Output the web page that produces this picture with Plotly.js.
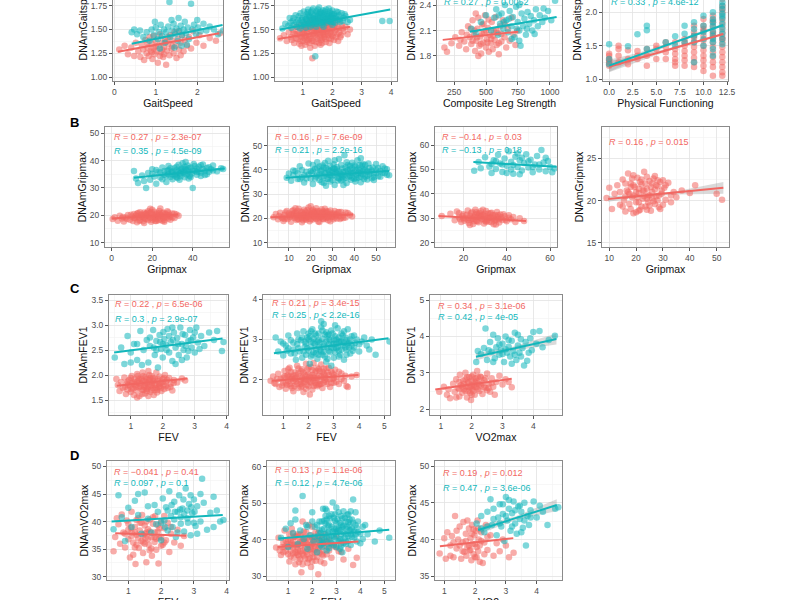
<!DOCTYPE html>
<html><head><meta charset="utf-8">
<script src="https://cdn.plot.ly/plotly-3.0.1.min.js"></script>
<style>
html,body{margin:0;padding:0;overflow:hidden;background:#fff;width:800px;height:600px}
#chart{position:absolute;left:0;top:-60px;width:800px;height:680px}
</style>
</head><body><div id="chart"></div>
<script>
// ---------- DATA ----------
// Panel A1: GaitSpeed vs DNAmGaitspeed
const a1Red = [[0.12,1.29],[0.25,1.33],[0.33,1.24],[0.41,1.31],[0.48,1.22],[0.52,1.36],[0.58,1.27],[0.63,1.21],[0.66,1.34],[0.70,1.29],[0.72,1.18],[0.75,1.39],[0.78,1.25],[0.80,1.31],[0.83,1.22],[0.85,1.42],[0.88,1.28],[0.90,1.35],[0.92,1.19],[0.95,1.30],[0.97,1.24],[1.00,1.38],[1.02,1.27],[1.05,1.15],[1.07,1.33],[1.10,1.45],[1.12,1.26],[1.15,1.36],[1.18,1.21],[1.20,1.31],[1.22,1.40],[1.25,1.13],[1.27,1.28],[1.30,1.35],[1.33,1.23],[1.35,1.44],[1.38,1.30],[1.40,1.38],[1.43,1.25],[1.45,1.47],[1.48,1.33],[1.50,1.20],[1.53,1.40],[1.56,1.29],[1.60,1.36],[1.63,1.44],[1.67,1.27],[1.70,1.39],[1.75,1.33],[1.80,1.42],[1.85,1.30],[1.90,1.48],[1.98,1.36],[2.05,1.44],[2.15,1.33],[2.30,1.41],[2.45,1.38],[2.55,1.46],[0.90,1.26],[1.10,1.22],[1.30,1.42],[1.00,1.32],[1.20,1.24],[1.40,1.32],[0.80,1.36],[1.60,1.23],[1.25,1.37],[0.95,1.43],[1.15,1.29],[1.55,1.48]];
const a1Cyan = [[0.42,1.47],[0.48,1.50],[0.55,1.45],[0.62,1.49],[0.70,1.42],[0.78,1.47],[0.85,1.38],[0.90,1.50],[0.95,1.44],[1.00,1.52],[1.05,1.40],[1.08,1.47],[1.12,1.55],[1.15,1.43],[1.20,1.50],[1.22,1.36],[1.25,1.47],[1.30,1.53],[1.33,1.79],[1.35,1.42],[1.40,1.49],[1.43,1.56],[1.47,1.45],[1.50,1.51],[1.53,1.38],[1.57,1.48],[1.60,1.54],[1.63,1.44],[1.67,1.50],[1.70,1.58],[1.73,1.46],[1.77,1.52],[1.80,1.40],[1.85,1.77],[1.88,1.50],[1.92,1.55],[1.97,1.45],[2.02,1.52],[2.08,1.48],[2.15,1.56],[2.22,1.49],[2.30,1.53],[2.40,1.50],[2.50,1.45],[2.62,1.49],[1.10,1.30],[1.45,1.31],[1.75,1.34],[1.62,1.33],[0.98,1.58],[1.38,1.60],[1.55,1.62],[2.00,1.60]];
const a1RedFit = [[0.09,1.266],[2.53,1.46]];
const a1CyanFit = [[0.42,1.35],[2.61,1.546]];

// Panel A2
const a2Red = [[0.22,1.41],[0.35,1.44],[0.45,1.38],[0.52,1.47],[0.6,1.42],[0.65,1.5],[0.7,1.36],[0.74,1.45],[0.78,1.53],[0.82,1.40],[0.85,1.48],[0.88,1.35],[0.9,1.44],[0.93,1.55],[0.96,1.42],[0.98,1.49],[1.0,1.38],[1.03,1.46],[1.05,1.53],[1.08,1.34],[1.1,1.43],[1.12,1.50],[1.15,1.39],[1.17,1.57],[1.2,1.45],[1.22,1.36],[1.25,1.52],[1.27,1.41],[1.3,1.48],[1.32,1.20],[1.33,1.55],[1.35,1.38],[1.38,1.46],[1.4,1.33],[1.42,1.51],[1.45,1.43],[1.47,1.58],[1.5,1.40],[1.52,1.49],[1.55,1.36],[1.57,1.54],[1.6,1.45],[1.62,1.39],[1.65,1.52],[1.67,1.47],[1.7,1.57],[1.72,1.42],[1.75,1.50],[1.78,1.37],[1.8,1.55],[1.83,1.46],[1.85,1.60],[1.88,1.41],[1.9,1.51],[1.93,1.47],[1.96,1.56],[2.0,1.43],[2.03,1.53],[2.06,1.39],[2.1,1.49],[2.14,1.58],[2.18,1.45],[2.22,1.52],[2.27,1.42],[2.32,1.55],[2.38,1.48],[2.45,1.53],[2.52,1.45],[2.6,1.50],[1.1,1.56],[1.3,1.60],[1.5,1.60],[0.95,1.33],[1.25,1.31],[1.6,1.34],[1.9,1.36],[1.15,1.47],[1.45,1.50],[1.75,1.44],[1.05,1.41],[1.35,1.52],[1.65,1.41],[2.0,1.61],[0.8,1.45],[1.2,1.54],[1.4,1.44],[1.8,1.48],[2.2,1.38],
  [0.62,1.39],[0.68,1.46],[0.76,1.41],[0.86,1.52],[0.92,1.38],[1.02,1.50],[1.07,1.44],[1.13,1.37],[1.18,1.51],[1.23,1.43],[1.28,1.56],[1.31,1.38],[1.37,1.49],[1.41,1.55],[1.44,1.37],[1.49,1.46],[1.54,1.52],[1.58,1.42],[1.63,1.49],[1.66,1.36],[1.69,1.45],[1.73,1.53],[1.77,1.40],[1.82,1.51],[1.86,1.44],[1.91,1.57],[1.95,1.40],[1.99,1.50],[2.04,1.46],[2.08,1.55],[2.12,1.42],[2.16,1.51],[2.24,1.47],[2.3,1.44],[2.36,1.51],[1.14,1.53],[1.34,1.45],[1.56,1.47],[1.76,1.58],[1.96,1.45],[0.99,1.45],[1.21,1.40],[1.48,1.53],[1.71,1.48],[1.87,1.53]];
const a2Cyan = [[0.3,1.51],[0.4,1.56],[0.5,1.54],[0.55,1.62],[0.6,1.52],[0.65,1.59],[0.7,1.55],[0.75,1.65],[0.8,1.53],[0.84,1.60],[0.88,1.57],[0.92,1.67],[0.95,1.54],[0.98,1.62],[1.0,1.58],[1.03,1.69],[1.06,1.55],[1.08,1.63],[1.1,1.52],[1.13,1.66],[1.15,1.59],[1.18,1.71],[1.2,1.56],[1.22,1.64],[1.25,1.60],[1.27,1.68],[1.3,1.55],[1.33,1.62],[1.35,1.72],[1.38,1.58],[1.4,1.65],[1.42,1.22],[1.43,1.61],[1.46,1.69],[1.48,1.56],[1.5,1.64],[1.53,1.59],[1.55,1.73],[1.58,1.62],[1.6,1.57],[1.63,1.67],[1.65,1.60],[1.68,1.70],[1.7,1.58],[1.73,1.65],[1.75,1.61],[1.78,1.71],[1.8,1.57],[1.83,1.66],[1.86,1.62],[1.88,1.72],[1.9,1.59],[1.93,1.67],[1.96,1.63],[2.0,1.70],[2.03,1.58],[2.06,1.66],[2.1,1.62],[2.14,1.69],[2.18,1.60],[2.22,1.65],[2.27,1.58],[2.32,1.67],[2.38,1.62],[2.45,1.64],[2.52,1.58],[2.6,1.60],[3.7,1.59],[3.95,1.59],[1.1,1.61],[1.45,1.53],[1.7,1.53],[0.9,1.51],[1.25,1.53],[2.0,1.55],[1.55,1.66],[1.35,1.60],[1.95,1.58],[1.65,1.55],
  [0.58,1.57],[0.68,1.62],[0.78,1.58],[0.86,1.64],[0.96,1.60],[1.04,1.56],[1.12,1.60],[1.19,1.65],[1.24,1.57],[1.29,1.63],[1.34,1.66],[1.39,1.61],[1.44,1.58],[1.49,1.67],[1.54,1.62],[1.59,1.68],[1.64,1.58],[1.69,1.63],[1.74,1.69],[1.79,1.61],[1.84,1.59],[1.89,1.65],[1.94,1.61],[1.99,1.66],[2.04,1.62],[2.09,1.57],[2.13,1.64],[2.2,1.68],[2.25,1.61],[2.35,1.59],[2.42,1.66],[1.31,1.70],[1.51,1.71],[1.71,1.67],[1.91,1.69],[1.16,1.68],[1.61,1.64],[2.01,1.64],[1.41,1.56],[1.81,1.64]];
const a2RedFit = [[0.16,1.40],[2.6,1.53]];
const a2CyanFit = [[0.22,1.50],[3.97,1.71]];

// Panel A3: Composite Leg Strength
const a3Red = [[175,1.90],[195,1.85],[230,1.95],[260,2.02],[290,1.92],[310,2.08],[330,1.97],[345,1.88],[360,2.15],[372,2.02],[385,1.94],[395,2.22],[405,2.05],[415,1.86],[425,1.98],[432,2.12],[440,2.25],[448,1.92],[455,2.03],[462,1.83],[470,2.17],[478,1.96],[485,2.08],[492,2.28],[500,1.90],[507,2.00],[515,2.13],[522,1.85],[530,2.05],[537,1.95],[545,2.20],[552,1.88],[560,2.10],[568,1.99],[575,2.26],[583,1.93],[590,2.07],[600,1.82],[610,2.15],[620,1.97],[632,2.22],[645,2.02],[658,1.90],[670,2.12],[685,1.98],[700,2.25],[715,2.05],[730,1.93],[745,2.10],[420,2.30],[480,2.18],[350,2.05],[440,1.80],[520,2.23],[600,1.95],[500,2.10],[380,2.12],[540,2.00],[460,1.94],[650,2.17],[580,2.10],[410,2.10],[300,1.99],[430,2.02],[470,2.06],[510,1.96],[555,2.04],[395,1.98],[620,2.06]];
const a3Cyan = [[385,2.12],[420,2.06],[460,2.20],[500,2.28],[540,2.10],[565,2.25],[580,2.35],[595,2.05],[610,2.18],[622,2.30],[635,2.12],[648,2.40],[660,2.22],[672,2.08],[685,2.33],[698,2.15],[710,2.26],[722,2.02],[735,2.38],[748,2.20],[760,2.10],[770,1.92],[778,2.30],[790,2.15],[800,2.24],[812,2.05],[825,2.32],[838,2.18],[850,2.27],[862,2.10],[875,2.22],[890,2.35],[905,2.15],[920,2.28],[940,2.20],[960,2.25],[985,2.33],[1010,2.22],[1040,2.45],[760,1.98],[700,2.00],[640,2.20],[820,2.12],[880,2.06],[740,2.12],[680,2.24],[600,2.28],[950,2.36],[760,2.40]];
const a3RedFit = [[162,1.99],[752,2.087]];
const a3CyanFit = [[375,2.087],[1052,2.26]];

// Panel A4: Physical Functioning (integer scores)
const a4Red = [[0,1.20],[0,1.25],[0,1.30],[0,1.35],[0,1.38],[0,1.23],[0,1.28],[1,1.50],[1,1.45],[1,1.35],[1,1.25],[2,1.43],[2,1.30],[2,1.22],[3,1.42],[3,1.30],[3,1.35],[4,1.20],[4,1.35],[4,1.45],[5,1.50],[5,1.45],[5,1.30],[6,1.55],[6,1.40],[6,1.30],[6,1.48],[7,1.55],[7,1.45],[7,1.30],[7,1.25],[7,1.20],[7,1.38],[8,1.60],[8,1.50],[8,1.42],[8,1.35],[8,1.28],[8,1.20],[8,1.55],[9,1.80],[9,1.70],[9,1.62],[9,1.55],[9,1.48],[9,1.40],[9,1.32],[9,1.25],[9,1.18],[9,1.65],[10,1.90],[10,1.80],[10,1.72],[10,1.65],[10,1.58],[10,1.50],[10,1.43],[10,1.35],[10,1.28],[10,1.20],[10,1.12],[10,1.75],[11,1.95],[11,1.85],[11,1.78],[11,1.70],[11,1.62],[11,1.55],[11,1.48],[11,1.40],[11,1.33],[11,1.25],[11,1.18],[11,1.05],[11,1.88],[11,1.68],[12,2.30],[12,2.20],[12,2.10],[12,2.00],[12,1.92],[12,1.85],[12,1.78],[12,1.70],[12,1.63],[12,1.55],[12,1.48],[12,1.40],[12,1.33],[12,1.25],[12,1.18],[12,1.10],[12,1.05],[12,2.05],[12,1.60]];
const a4Cyan = [[0,1.52],[0,1.22],[0,1.30],[2,1.49],[3,1.67],[4,1.80],[4,1.73],[4,1.45],[6,1.55],[7,1.64],[7,1.50],[8,1.80],[8,1.68],[8,1.55],[9,1.85],[9,1.75],[9,1.55],[9,1.25],[9,1.65],[10,1.95],[10,1.80],[10,1.70],[10,1.60],[10,1.50],[11,2.00],[11,1.90],[11,1.80],[11,1.72],[11,1.65],[11,1.55],[11,1.45],[11,1.35],[11,1.85],[11,1.60],[12,2.35],[12,2.25],[12,2.15],[12,2.05],[12,1.98],[12,1.90],[12,1.82],[12,1.75],[12,1.68],[12,1.60],[12,1.52],[12,2.10],[12,1.95]];
const a4RedFit = [[0,1.185],[12.1,1.675]];
const a4CyanFit = [[0,1.20],[12.1,1.81]];
const a4RedBand = [[0,1.10,1.27],[3,1.26,1.35],[6,1.41,1.45],[9,1.54,1.57],[12.1,1.66,1.69]];
const a4CyanBand = [[0,1.11,1.29],[3,1.30,1.39],[6,1.48,1.52],[9,1.64,1.68],[12.1,1.79,1.83]];

// Panel B1: Gripmax vs DNAmGripmax
const b1Red = [[0.5,18.6],[1.5,19.3],[3,18.0],[4,19.8],[5,18.8],[6,17.7],[7,19.2],[8,20.1],[9,18.4],[10,19.6],[10.5,17.9],[11,20.5],[11.5,18.9],[12,19.9],[12.5,17.5],[13,20.8],[13.5,19.1],[14,18.2],[14.5,20.3],[15,19.5],[15.5,17.8],[16,21.0],[16.5,18.7],[17,19.8],[17.5,20.9],[18,18.3],[18.5,19.6],[19,22.4],[19.5,17.6],[20,20.4],[20.5,18.9],[21,21.3],[21.5,19.4],[22,17.9],[22.5,20.8],[23,19.1],[23.5,21.6],[24,18.5],[24.5,20.1],[25,19.6],[25.5,21.0],[26,18.2],[26.5,20.6],[27,19.3],[27.5,21.5],[28,18.8],[28.5,20.2],[29,19.5],[30,20.7],[31,19.0],[32,20.3],[33,19.8],[20,22.0],[18,21.5],[16,17.2],[22,18.6],[24,22.5],[14,21.1],[26,17.6],[19,19.0],[21,20.0],[23,20.0],[17,20.5],[25,18.0],
  [5.5,19.4],[7.5,18.6],[9.5,20.2],[11,19.0],[12.5,20.6],[13.5,18.0],[15,20.0],[16,19.2],[17,18.6],[18,20.0],[19,20.8],[20,18.4],[21,19.2],[22,20.4],[23,18.2],[24,19.8],[25,20.8],[26,19.4],[27,20.2],[28,19.8],[29,18.4],[30,19.2],[31,20.6],[19.5,21.2],[21.5,17.9],[16.5,20.6],[25.5,19.0],[13,19.6],[23.5,20.6],[28,21.0]];
const b1Cyan = [[11,36.2],[12,33.5],[13,31.8],[15,34.6],[16,32.5],[17,30.0],[18,35.5],[19,33.0],[20,36.8],[21,34.2],[22,31.5],[23,35.8],[24,33.8],[25,37.5],[26,34.8],[27,32.2],[27.5,36.2],[28,38.0],[29,34.0],[29.5,35.9],[30,33.2],[31,37.2],[31.5,35.0],[32,36.5],[32.5,33.6],[33,38.5],[33.5,35.4],[34,34.3],[34.5,37.0],[35,39.0],[35.5,35.8],[36,33.9],[36.5,36.8],[37,34.9],[37.5,38.2],[38,36.0],[38.5,34.5],[39,37.5],[39.5,35.3],[40,30.0],[40.5,38.8],[41,36.3],[42,34.8],[43,37.8],[44,35.6],[45,36.9],[46,34.7],[47,37.3],[48,35.9],[49,36.8],[50,38.2],[52,36.1],[54,37.2],[55,36.9],[30,36.0],[34,36.5],[36,37.8],[28,35.0],[42,37.0],[32,34.0],[38,33.5],[44,38.3],
  [20,35.2],[22,36.6],[24,35.6],[25,33.2],[26,36.2],[27,34.4],[28,36.6],[29,37.2],[30,35.0],[31,34.6],[32,37.8],[33,36.0],[34,35.2],[35,37.0],[36,35.4],[37,36.4],[38,37.2],[39,34.0],[40,36.4],[41,38.0],[42,35.8],[43,36.0],[44,34.4],[45,38.6],[46,36.2],[47,35.0],[48,37.6],[50,36.4],[36.5,39.5],[33.5,33.0]];
const b1RedFit = [[0,18.8],[32.8,20.3]];
const b1CyanFit = [[11,33.7],[55.8,37.1]];

// Panel B2
const b2Red = [[3,20.5],[4,21.8],[5,19.6],[6,22.3],[7,20.1],[7.5,18.9],[8,21.5],[9,23.0],[9.5,19.8],[10,22.0],[10.5,20.6],[11,18.6],[11.5,21.9],[12,23.4],[12.5,20.2],[13,22.5],[13.5,19.3],[14,21.2],[14.5,24.0],[15,20.4],[15.5,22.8],[16,18.4],[16.5,21.6],[17,23.6],[17.5,19.9],[18,22.2],[18.5,20.8],[19,24.5],[19.5,18.8],[20,21.4],[20.5,23.2],[21,19.5],[21.5,22.6],[22,20.3],[22.5,24.2],[23,21.0],[23.5,18.7],[24,22.9],[24.5,20.6],[25,23.8],[25.5,19.7],[26,21.8],[26.5,24.0],[27,20.1],[27.5,22.4],[28,19.2],[28.5,21.5],[29,23.3],[29.5,20.5],[30,22.1],[30.5,19.6],[31,23.0],[31.5,21.2],[32,20.0],[32.5,22.5],[33,21.0],[33.5,19.8],[34,22.6],[35,21.3],[36,20.4],[37,22.2],[38,21.5],[39,20.8],[12,21.0],[15,21.5],[18,21.0],[20,22.0],[22,21.6],[24,20.8],[26,22.6],[28,21.0],[17,20.2],[19,20.0],[21,21.0],[23,22.2],[25,21.2],[14,19.8],[16,20.0],[27,23.0],[30,20.8],[10,21.2],[8,19.8],[20,25.0],[24,18.5],[13,24.2],[29,18.8],[18,19.4],[22,22.8],[26,20.5],[31,21.8],[34,20.3],
  [5.5,21.0],[6.5,20.5],[8.5,22.4],[9,20.4],[11,21.3],[11.5,23.0],[12.5,22.0],[13.5,21.6],[14,23.0],[14.5,19.6],[15.5,21.0],[16,22.4],[16.5,19.2],[17,21.8],[17.5,22.8],[18,20.6],[18.5,23.4],[19,21.5],[19.5,22.4],[20,19.6],[20.5,21.8],[21,23.6],[21.5,20.6],[22,21.8],[22.5,19.8],[23,23.0],[23.5,21.5],[24,20.2],[24.5,22.2],[25,20.8],[25.5,22.8],[26,19.6],[26.5,21.4],[27,22.0],[27.5,20.6],[28,22.8],[29,21.8],[30,21.4],[31,20.4],[32,21.6],[33,22.6],[35,20.2],[36,22.4],[19,20.8],[22,20.8],[25,22.0],[16,21.2],[13,20.6],[28,20.4],[21,22.4]];
const b2Cyan = [[9,36.8],[10,38.5],[11,35.5],[12,37.8],[13,39.6],[14,36.2],[15,41.5],[16,37.0],[17,34.8],[18,39.2],[19,42.6],[20,36.5],[20.5,38.8],[21,34.2],[22,40.5],[22.5,37.3],[23,43.2],[24,35.8],[24.5,39.5],[25,37.2],[25.5,41.8],[26,34.6],[26.5,38.6],[27,40.8],[27.5,36.4],[28,43.8],[28.5,38.0],[29,35.2],[29.5,40.0],[30,37.5],[30.5,42.3],[31,33.8],[31.5,39.0],[32,41.2],[32.5,36.8],[33,44.5],[33.5,38.4],[34,35.6],[34.5,40.6],[35,37.8],[35.5,46.0],[36,39.4],[36.5,34.6],[37,42.0],[37.5,37.2],[38,40.2],[38.5,35.9],[39,43.0],[39.5,38.7],[40,36.4],[40.5,41.4],[41,38.0],[41.5,44.0],[42,36.9],[42.5,39.8],[43,34.9],[43.5,41.8],[44,38.2],[44.5,36.2],[45,40.4],[46,37.6],[46.5,42.6],[47,39.0],[48,36.6],[48.5,41.0],[49,38.5],[50,40.0],[51,37.4],[52,39.6],[53,41.5],[54,38.7],[55,40.3],[56,37.8],[20,39.5],[23,38.0],[26,41.0],[29,37.8],[31,40.5],[33,36.5],[35,39.0],[37,38.5],[39,36.8],[41,40.0],[43,38.5],[45,37.2],[47,40.8],[21,42.0],[25,35.0],[30,39.2],[34,38.0],[38,41.6],[42,38.8],[44,42.4],[36,36.8],[32,38.6],[28,40.2],[24,41.4],[40,39.0],[46,39.4],[27,33.5],[35,33.8],[43,44.8],[31,44.0],[18,36.5],[15,36.2],[50,42.4],[49,35.8],
  [12,39.8],[14,38.6],[16,40.0],[17,37.8],[19,38.0],[21,39.6],[22,36.5],[23,40.8],[24,38.4],[25,39.8],[26,37.4],[27,38.6],[28,36.2],[29,41.6],[30,35.8],[31,38.0],[32,40.2],[33,39.4],[34,42.0],[35,36.2],[36,41.0],[37,39.8],[38,37.6],[39,40.6],[40,41.8],[41,36.6],[42,40.6],[43,37.2],[44,39.6],[45,42.0],[46,36.0],[47,38.2],[48,39.8],[49,37.0],[50,38.6],[51,40.8],[52,37.2],[53,38.8],[54,40.6],[55,38.0],[26.5,42.8],[30.5,40.6],[34.5,37.0],[38.5,38.8],[42.5,42.0],[36.5,43.2],[32.5,35.6],[40.5,35.2],[44.5,40.0],[28.5,39.4]];
const b2RedFit = [[1.5,20.5],[39.5,21.6]];
const b2CyanFit = [[8.5,36.8],[56,39.6]];

// Panel B3
const b3Red = [[10,30.9],[14,31.8],[16,29.2],[17,32.8],[18,30.4],[19,28.5],[20,31.6],[21,29.9],[22,33.2],[22.5,28.0],[23,31.0],[23.5,29.4],[24,32.5],[24.5,27.6],[25,30.6],[25.5,33.5],[26,29.0],[26.5,31.8],[27,28.3],[27.5,30.2],[28,32.9],[28.5,29.6],[29,31.4],[29.5,27.8],[30,30.8],[30.5,33.0],[31,29.1],[31.5,31.9],[32,28.6],[32.5,30.4],[33,32.2],[33.5,29.8],[34,27.5],[34.5,31.3],[35,29.4],[35.5,32.6],[36,30.0],[36.5,28.2],[37,31.5],[38,29.3],[39,30.8],[40,28.8],[41,31.2],[42,29.6],[43,30.5],[44,28.4],[46,30.0],[48,28.9],[20,30.0],[24,30.0],[28,30.8],[32,30.2],[26,30.5],[30,29.0],[34,30.2],[22,29.3],[36,31.2],[18,32.0],[29,33.5],[27,31.2],[31,30.0],[33,28.3],[25,28.8],[23,27.2],[35,27.4],
  [18.5,29.6],[19.5,31.0],[20.5,29.0],[21.5,31.4],[22.5,30.2],[23.5,32.0],[24.5,29.8],[25.5,31.4],[26.5,28.8],[27.5,32.0],[28.5,31.0],[29.5,29.6],[30.5,28.6],[31.5,30.6],[32.5,32.0],[33.5,31.2],[34.5,29.0],[35.5,30.6],[36.5,29.6],[37.5,30.4],[38.5,31.6],[39.5,29.4],[41,30.2],[26,32.4],[30,31.8]];
const b3Cyan = [[25,49.5],[27,53.0],[28,50.5],[30,55.0],[32,51.2],[33,48.5],[34,53.8],[35,50.2],[36,56.0],[37,52.4],[38,49.0],[39,54.5],[40,51.5],[41,57.5],[42,53.2],[43,48.2],[44,55.2],[45,51.0],[46,53.8],[47,49.6],[48,52.6],[49,56.2],[50,50.8],[51,54.0],[52,48.8],[53,52.0],[54,55.5],[55,50.0],[56,58.0],[57,52.8],[58,49.3],[59,53.5],[60,51.0],[61,48.8],[62,50.4],[40,48.5],[45,56.5],[50,53.4],[55,52.0],[35,53.5],[43,51.8],[47,54.8],[52,51.0],[38,52.0],[58,54.8],[42,50.0],[46,48.0],[33,52.2]];
const b3RedFit = [[8.5,30.9],[48.9,28.9]];
const b3CyanFit = [[24.6,53.0],[63,51.1]];

// Panel B4 (single group)
const b4Red = [[9,20.3],[10,21.5],[11,19.0],[12,20.8],[13,21.8],[14,19.5],[15,22.5],[15.5,20.0],[16,18.7],[16.5,21.2],[17,23.2],[17.5,19.6],[18,22.0],[18.5,20.4],[19,18.5],[19.5,21.6],[20,19.8],[20.5,22.7],[21,20.9],[21.5,18.9],[22,21.9],[22.5,20.2],[23,23.4],[23.5,19.3],[24,21.4],[24.5,20.6],[25,22.3],[25.5,18.8],[26,21.0],[26.5,19.9],[27,22.9],[27.5,20.5],[28,21.7],[28.5,19.2],[29,22.2],[29.5,20.8],[30,19.5],[30.5,21.5],[31,20.1],[32,22.1],[33,19.8],[34,21.0],[35,20.4],[37,21.2],[40,20.9],[42,21.8],[50,20.8],[52,20.1],[18,19.0],[20,21.0],[22,19.3],[24,22.8],[26,20.3],[28,20.0],[17,21.0],[19,20.6],[21,21.4],[23,20.5],[25,19.4],[27,21.3],[16,20.5],[20,18.6],[22,22.5],[24,18.9],[29,19.0],[26,22.0],[19,23.0],[21,19.8],[23,21.2],[30,22.4],[15,19.3],[18,21.6],[25,20.6],[27,19.6],
  [14,21.0],[16,22.0],[17.5,20.8],[19,21.8],[20.5,20.4],[21.5,22.2],[22.5,21.2],[23.5,22.0],[24.5,19.8],[25.5,21.6],[26.5,22.6],[27.5,21.8],[28.5,20.6],[29.5,21.2],[31,21.8],[33,20.6],[18.5,22.6],[21,18.8],[24,20.2],[28,22.4]];
const b4RedFit = [[9.6,20.17],[52.5,21.5]];
const b4RedBand = [[9.6,19.85,20.5],[22,20.42,20.68],[35,20.7,21.1],[52.5,20.8,22.2]];

// Panel C1: FEV vs DNAmFEV1
const c1Red = [[0.55,1.92],[0.6,1.80],[0.65,1.68],[0.7,1.86],[0.75,1.74],[0.8,1.95],[0.85,1.62],[0.88,1.83],[0.9,1.71],[0.95,1.90],[0.98,1.78],[1.0,1.66],[1.03,1.98],[1.05,1.85],[1.08,1.73],[1.1,1.60],[1.12,1.92],[1.15,1.80],[1.18,1.69],[1.2,2.02],[1.22,1.87],[1.25,1.75],[1.27,1.58],[1.3,1.93],[1.32,1.82],[1.35,1.70],[1.37,2.05],[1.4,1.88],[1.42,1.76],[1.45,1.63],[1.47,1.96],[1.5,1.84],[1.52,1.72],[1.55,2.08],[1.57,1.90],[1.6,1.78],[1.62,1.66],[1.65,1.98],[1.67,1.85],[1.7,1.74],[1.72,1.60],[1.75,1.93],[1.78,1.81],[1.8,2.05],[1.83,1.70],[1.85,1.88],[1.88,1.76],[1.9,1.97],[1.93,1.84],[1.96,1.68],[2.0,1.92],[2.03,1.80],[2.07,2.0],[2.1,1.86],[2.15,1.74],[2.2,1.94],[2.25,1.82],[2.3,1.69],[2.35,1.90],[2.45,1.85],[2.6,1.93],[2.7,1.89],[1.2,1.55],[1.55,1.58],[1.0,1.94],[1.4,1.98],[1.6,1.93],[1.3,1.77],[1.5,1.68],[1.7,1.88],[1.1,1.82],[1.9,1.78],[1.45,1.86],[1.65,1.79],[0.9,1.87],[1.25,1.91],[1.75,1.70],[2.05,1.72],
  [0.82,1.76],[0.92,1.80],[1.02,1.72],[1.12,1.86],[1.17,1.76],[1.27,1.84],[1.34,1.92],[1.39,1.70],[1.44,1.80],[1.49,1.92],[1.54,1.76],[1.59,1.86],[1.64,1.70],[1.69,1.94],[1.74,1.80],[1.79,1.74],[1.84,1.92],[1.89,1.82],[1.94,1.74],[1.99,1.86],[2.04,1.94],[2.09,1.78],[2.14,1.90],[2.24,1.76],[2.34,1.84],[1.36,1.62],[1.58,2.00],[1.22,1.98],[1.82,1.65],[1.48,1.74]];
const c1Cyan = [[0.5,2.35],[0.7,2.55],[0.8,2.22],[0.9,2.78],[1.0,2.45],[1.1,2.62],[1.2,2.30],[1.3,2.88],[1.4,2.50],[1.5,2.70],[1.55,2.25],[1.6,2.58],[1.7,2.90],[1.75,2.40],[1.8,2.68],[1.85,2.15],[1.9,2.80],[1.95,2.52],[2.0,2.35],[2.05,2.72],[2.1,2.60],[2.15,2.92],[2.2,2.45],[2.25,2.66],[2.3,2.28],[2.35,2.85],[2.4,2.55],[2.45,2.74],[2.5,2.40],[2.55,2.95],[2.6,2.62],[2.65,2.50],[2.7,2.80],[2.75,2.35],[2.8,2.68],[2.85,2.90],[2.9,2.55],[2.95,2.75],[3.0,2.45],[3.05,2.95],[3.1,2.65],[3.2,2.78],[3.3,2.58],[3.45,2.85],[3.6,2.70],[3.7,2.88],[3.85,2.48],[3.9,2.66],[2.2,2.78],[2.6,2.30],[1.6,2.75],[2.4,2.22],[2.8,2.48],[2.0,2.62],[3.0,2.85],[1.2,2.62],[1.8,2.50],[2.3,2.95],[1.35,2.20],[1.0,2.25],[2.12,2.50],[2.48,2.62],[2.72,2.58],[1.92,2.66],[2.32,2.70],[2.62,2.82],[2.88,2.70],[3.15,2.52],[1.72,2.55],[2.02,2.86]];
const c1RedFit = [[0.56,1.786],[2.77,1.93]];
const c1CyanFit = [[0.48,2.45],[3.87,2.73]];

// Panel C2
const c2Red = [[0.5,1.98],[0.6,2.08],[0.7,1.90],[0.8,2.15],[0.85,1.82],[0.9,2.02],[1.0,1.93],[1.05,2.22],[1.1,1.78],[1.15,2.10],[1.2,1.97],[1.25,2.30],[1.3,1.85],[1.35,2.05],[1.4,1.72],[1.45,2.18],[1.5,1.95],[1.55,2.35],[1.6,1.80],[1.65,2.08],[1.7,1.90],[1.75,2.26],[1.8,1.70],[1.85,2.02],[1.9,2.40],[1.95,1.87],[2.0,2.14],[2.05,1.95],[2.1,2.32],[2.15,1.76],[2.2,2.06],[2.25,1.92],[2.3,2.22],[2.35,1.84],[2.4,2.10],[2.45,1.98],[2.5,2.38],[2.55,1.80],[2.6,2.15],[2.65,2.00],[2.7,2.28],[2.75,1.90],[2.8,2.12],[2.85,1.82],[2.9,2.20],[2.95,2.02],[3.0,1.93],[3.05,2.25],[3.1,2.08],[3.2,1.90],[3.3,2.16],[3.4,1.98],[3.5,1.85],[3.55,1.82],[3.7,2.08],[3.9,2.12],[1.2,2.12],[1.5,2.12],[1.8,2.18],[2.1,2.05],[2.4,1.88],[1.7,2.00],[2.0,2.00],[2.3,2.00],[1.4,1.98],[2.6,2.05],[1.0,2.05],[2.2,2.42],[1.6,2.28],[1.9,1.78],[2.8,2.30],[1.1,1.92],[1.3,2.20],[2.5,1.90],[2.7,1.95],[1.9,2.10],[2.2,1.85],[1.75,1.85],[2.35,2.30],[1.45,1.85],[2.05,1.64],[2.15,2.24],[1.25,1.90],[2.45,2.22],[3.0,2.12],
  [0.65,1.92],[0.75,2.02],[0.95,1.86],[1.05,2.08],[1.15,1.88],[1.2,2.26],[1.3,2.02],[1.35,1.80],[1.4,2.10],[1.5,2.04],[1.55,1.90],[1.6,2.16],[1.65,1.95],[1.7,2.22],[1.75,2.05],[1.8,1.92],[1.85,2.12],[1.9,2.00],[1.95,2.25],[2.0,1.84],[2.05,2.08],[2.1,1.93],[2.15,2.12],[2.2,1.98],[2.25,2.18],[2.3,1.88],[2.35,2.05],[2.4,2.26],[2.45,1.90],[2.5,2.08],[2.55,2.20],[2.6,1.94],[2.65,2.12],[2.7,2.04],[2.75,2.18],[2.85,2.02],[2.9,1.92],[3.0,2.05],[3.1,1.95],[3.2,2.20],[3.3,2.02],[3.45,2.10],[1.45,2.02],[1.85,1.95],[2.25,2.05],[1.25,2.08],[2.0,2.30],[1.7,1.82],[2.6,2.28],[2.95,2.16]];
const c2Cyan = [[0.7,3.05],[0.8,2.70],[0.9,2.95],[1.0,2.60],[1.1,2.85],[1.2,3.10],[1.3,2.65],[1.4,2.92],[1.5,2.50],[1.55,3.15],[1.6,2.78],[1.7,2.98],[1.75,2.55],[1.8,3.20],[1.85,2.82],[1.9,2.62],[1.95,3.05],[2.0,2.72],[2.05,2.40],[2.1,2.95],[2.15,3.25],[2.2,2.68],[2.25,2.88],[2.3,3.10],[2.35,2.52],[2.4,2.98],[2.45,2.75],[2.5,3.30],[2.55,2.62],[2.6,2.90],[2.65,3.12],[2.7,2.45],[2.75,2.80],[2.8,3.02],[2.85,2.68],[2.9,3.22],[2.95,2.88],[3.0,2.55],[3.05,3.08],[3.1,2.78],[3.15,3.28],[3.2,2.95],[3.25,2.62],[3.3,3.15],[3.35,2.85],[3.4,2.50],[3.45,3.05],[3.5,2.75],[3.55,3.25],[3.6,2.92],[3.65,2.65],[3.7,3.08],[3.8,2.80],[3.9,3.00],[4.0,2.70],[4.1,2.95],[4.3,2.85],[4.5,3.00],[4.65,2.62],[5.2,2.95],[1.2,2.78],[1.6,3.00],[2.0,3.00],[2.4,2.82],[2.8,2.88],[3.2,2.72],[3.6,2.80],[2.2,3.02],[2.6,2.70],[3.0,3.00],[3.4,2.92],[1.8,2.70],[2.5,3.45],[2.9,2.35],[3.8,3.10],[2.3,2.75],[2.7,3.18],[3.1,2.90],[1.4,2.75],[1.9,2.90],[3.3,2.95],[2.1,2.58],[2.6,3.38],[3.5,2.98],[2.0,3.15],[3.0,2.78],[2.4,2.62],[2.8,3.12],[3.2,3.05],[3.7,2.85],
  [1.0,2.90],[1.15,2.72],[1.3,2.98],[1.45,2.65],[1.55,2.88],[1.65,2.70],[1.75,3.05],[1.85,2.95],[1.95,2.78],[2.05,3.08],[2.1,2.82],[2.15,2.62],[2.2,2.92],[2.25,3.15],[2.3,2.66],[2.35,2.95],[2.4,3.15],[2.45,2.92],[2.5,2.70],[2.55,3.02],[2.6,2.82],[2.65,2.58],[2.7,2.95],[2.75,3.10],[2.8,2.72],[2.85,2.98],[2.9,2.80],[2.95,3.15],[3.0,2.90],[3.05,2.68],[3.1,3.00],[3.15,2.82],[3.2,2.58],[3.25,2.95],[3.3,2.75],[3.35,3.10],[3.45,2.80],[3.5,2.62],[3.55,2.90],[3.65,3.00],[3.75,2.72],[3.85,2.92],[4.0,2.88],[4.2,3.05],[4.4,2.75],[2.55,3.22],[3.05,3.35],[2.1,3.20],[3.4,3.20],[2.75,2.52]];
const c2RedFit = [[0.54,1.98],[3.97,2.12]];
const c2CyanFit = [[0.63,2.66],[5.16,3.03]];

// Panel C3: VO2max vs DNAmFEV1
const c3Red = [[0.95,2.48],[1.1,2.62],[1.2,2.40],[1.25,2.55],[1.3,2.30],[1.4,2.70],[1.45,2.48],[1.5,2.82],[1.55,2.58],[1.6,2.35],[1.62,2.95],[1.65,2.66],[1.7,2.45],[1.72,2.78],[1.75,2.55],[1.8,3.0],[1.82,2.62],[1.85,2.32],[1.88,2.72],[1.9,2.50],[1.92,2.88],[1.95,2.60],[1.98,2.25],[2.0,2.78],[2.02,2.55],[2.05,2.95],[2.08,2.68],[2.1,2.40],[2.12,2.85],[2.15,2.60],[2.18,3.05],[2.2,2.72],[2.25,2.50],[2.28,2.90],[2.3,2.65],[2.35,2.42],[2.4,2.80],[2.45,2.58],[2.5,2.98],[2.55,2.70],[2.6,2.48],[2.65,2.85],[2.7,2.62],[2.75,2.40],[2.8,2.75],[2.9,2.92],[3.0,2.68],[3.1,2.82],[3.2,2.75],[3.3,2.60],[1.9,2.75],[2.0,2.40],[2.1,2.62],[1.8,2.50],[2.2,2.55],[1.7,2.62],[2.3,2.88],[1.6,2.75],[2.4,2.60],[2.0,2.65],[1.85,2.88],[2.15,2.78],[1.5,2.32],[2.5,2.52],
  [1.6,2.55],[1.75,2.70],[1.9,2.62],[2.0,2.90],[2.1,2.75],[2.25,2.68],[2.35,2.72],[2.45,2.85],[2.55,2.58],[2.65,2.72],[1.95,2.45],[2.2,2.88],[1.8,2.82],[2.05,2.50]];
const c3Cyan = [[2.15,3.30],[2.3,3.52],[2.4,3.68],[2.45,4.22],[2.5,3.35],[2.6,3.85],[2.65,3.58],[2.7,4.05],[2.75,3.40],[2.8,3.70],[2.85,3.95],[2.9,3.50],[2.95,3.62],[3.0,3.80],[3.05,3.30],[3.1,4.00],[3.15,3.55],[3.2,3.72],[3.25,3.45],[3.3,3.88],[3.35,3.60],[3.4,4.10],[3.45,3.35],[3.5,3.75],[3.55,3.55],[3.6,3.92],[3.65,3.68],[3.7,3.20],[3.75,3.85],[3.8,3.33],[3.9,3.95],[3.95,3.62],[4.0,4.12],[4.1,3.80],[4.2,4.15],[4.3,3.70],[4.5,3.90],[4.7,4.02],[2.55,3.62],[3.0,3.52],[3.2,3.90],[3.4,3.50],[2.9,3.78],[3.6,3.45],[3.3,3.25],[2.7,3.30],[3.1,3.65],[3.5,4.05],[2.2,3.60],[3.85,3.55]];
const c3RedFit = [[0.82,2.54],[3.3,2.84]];
const c3CyanFit = [[2.14,3.44],[4.75,3.93]];
const c3CyanBand = [[2.14,3.34,3.54],[3.3,3.61,3.71],[4.75,3.78,4.08]];

// Panel D1: FEV vs DNAmVO2max
const d1Red = [[0.55,34.6],[0.6,37.2],[0.7,39.5],[0.75,36.0],[0.8,41.3],[0.85,38.0],[0.9,35.3],[0.95,40.2],[1.0,36.8],[1.05,33.5],[1.08,38.9],[1.1,41.8],[1.15,36.2],[1.2,39.0],[1.22,32.3],[1.25,37.6],[1.3,40.6],[1.32,35.2],[1.35,38.4],[1.4,36.5],[1.42,41.2],[1.45,34.3],[1.5,39.3],[1.52,37.0],[1.55,32.6],[1.6,38.6],[1.62,35.8],[1.65,40.4],[1.7,37.2],[1.72,33.8],[1.75,39.6],[1.8,36.3],[1.82,41.0],[1.85,34.9],[1.9,38.2],[1.92,32.4],[1.95,37.0],[2.0,40.0],[2.05,35.8],[2.1,38.8],[2.15,36.6],[2.2,39.8],[2.25,34.5],[2.3,37.8],[2.4,36.2],[2.5,38.5],[2.6,35.6],[2.7,37.4],[1.0,38.5],[1.3,37.0],[1.6,36.8],[1.9,39.4],[1.2,35.3],[1.5,36.0],[1.8,38.0],[1.1,37.4],[1.4,39.8],[1.7,35.1],[2.0,37.2],[0.9,37.8],[1.25,40.3],[1.55,38.0],[1.85,36.9],[0.65,40.6],[1.15,34.0],[1.45,37.5],[2.1,41.0],[1.65,34.8],
  [1.0,39.6],[1.2,38.0],[1.35,39.8],[1.5,37.8],[1.65,38.2],[1.8,37.2],[1.95,38.8],[2.1,36.2],[2.3,39.0],[1.45,36.2],[1.25,35.8],[1.75,40.8],[2.0,35.6],[1.55,40.0],[1.1,38.0]];
const d1Cyan = [[0.55,38.6],[0.7,44.8],[0.8,40.8],[0.9,36.5],[1.0,42.5],[1.1,39.0],[1.2,43.8],[1.3,41.2],[1.4,37.8],[1.5,45.3],[1.6,40.5],[1.7,38.0],[1.8,43.0],[1.85,39.5],[1.9,41.8],[2.0,36.6],[2.05,44.2],[2.1,40.2],[2.15,42.6],[2.2,38.4],[2.25,45.5],[2.3,41.0],[2.35,39.0],[2.4,43.6],[2.45,37.2],[2.5,41.8],[2.55,44.8],[2.6,39.6],[2.65,42.4],[2.7,38.2],[2.75,46.0],[2.8,40.6],[2.85,43.2],[2.9,37.5],[2.95,41.5],[3.0,44.0],[3.05,39.2],[3.1,42.8],[3.2,40.0],[3.25,47.8],[3.3,43.4],[3.4,38.5],[3.5,41.6],[3.6,44.5],[3.7,42.0],[3.8,40.0],[3.9,40.3],[2.2,42.0],[2.6,40.8],[3.0,39.8],[2.4,40.4],[2.8,42.0],[1.6,42.8],[2.0,39.8],[3.2,45.0],[2.5,38.0],[2.9,44.8],[1.3,45.0],[2.7,41.4],[3.1,37.8],[3.6,39.0],[2.32,43.0],[2.58,42.2],[2.82,39.8],[3.02,41.8],[2.12,39.0],[2.42,41.8],[2.68,44.0],[2.92,42.6]];
const d1RedFit = [[0.6,37.9],[2.76,37.45]];
const d1CyanFit = [[0.49,40.0],[3.88,41.2]];

// Panel D2
const d2Red = [[0.5,37.8],[0.6,40.5],[0.7,35.8],[0.8,39.2],[0.85,42.5],[0.9,36.8],[1.0,40.0],[1.05,34.0],[1.1,38.5],[1.15,43.0],[1.2,36.2],[1.25,40.8],[1.3,33.2],[1.35,38.0],[1.4,41.5],[1.45,35.5],[1.5,39.5],[1.55,31.0],[1.6,37.0],[1.65,42.2],[1.7,34.8],[1.75,39.0],[1.8,36.0],[1.85,44.0],[1.9,38.0],[1.95,32.5],[2.0,40.5],[2.05,35.2],[2.1,38.8],[2.15,42.0],[2.2,36.5],[2.25,30.5],[2.3,39.8],[2.35,34.0],[2.4,41.0],[2.45,37.0],[2.5,33.5],[2.55,39.5],[2.6,36.0],[2.7,40.0],[2.8,35.0],[2.9,38.2],[3.0,41.0],[3.1,36.8],[3.2,39.0],[3.3,34.5],[3.5,37.5],[3.7,33.0],[3.85,35.0],[1.2,39.5],[1.5,36.8],[1.8,40.5],[2.1,37.2],[1.4,38.6],[1.7,37.8],[2.0,36.2],[2.3,38.2],[1.1,37.0],[1.6,39.8],[1.9,35.0],[2.2,40.0],[1.3,40.8],[1.0,36.0],[2.4,38.8],[1.75,42.0],[2.05,39.8],[1.45,33.8],[1.85,37.2],[2.55,41.5],[1.25,35.0],[2.15,34.2],[1.65,35.6],[0.75,38.0],[2.65,38.0],[1.95,38.6],[1.35,36.4],[2.45,35.6],[1.55,40.8],[0.95,38.8],[2.25,41.8],[2.0,43.5],[1.6,45.0],
  [0.65,37.0],[0.8,36.5],[0.9,39.6],[1.0,38.2],[1.05,41.5],[1.1,35.4],[1.15,39.0],[1.2,37.8],[1.25,38.5],[1.3,36.5],[1.35,41.0],[1.4,37.2],[1.45,39.2],[1.5,34.6],[1.55,38.4],[1.6,36.2],[1.65,39.4],[1.7,40.6],[1.75,36.6],[1.8,38.6],[1.85,34.6],[1.9,40.0],[1.95,37.4],[2.0,38.8],[2.05,36.8],[2.1,40.4],[2.15,38.0],[2.2,35.2],[2.25,37.6],[2.3,36.4],[2.35,39.4],[2.4,36.0],[2.5,38.4],[2.6,39.6],[2.7,37.0],[2.8,38.6],[3.0,37.8],[3.2,36.6],[1.2,41.6],[1.5,41.4],[1.8,33.6],[2.0,34.0],[1.4,35.8],[1.7,39.2],[2.3,40.6],[1.1,39.8],[1.6,33.2],[2.45,39.2],[1.95,41.2],[0.85,38.0]];
const d2Cyan = [[0.7,40.5],[0.9,43.0],[1.0,38.0],[1.2,41.8],[1.3,45.5],[1.4,38.8],[1.5,42.5],[1.6,52.0],[1.65,40.2],[1.75,44.0],[1.8,37.5],[1.9,41.2],[2.0,47.5],[2.05,39.5],[2.1,43.5],[2.2,36.5],[2.25,41.0],[2.3,45.0],[2.35,38.5],[2.4,42.8],[2.45,48.5],[2.5,40.0],[2.55,44.5],[2.6,37.0],[2.65,42.0],[2.7,46.5],[2.75,39.2],[2.8,43.5],[2.85,50.2],[2.9,40.8],[2.95,45.2],[3.0,38.0],[3.05,42.5],[3.1,47.5],[3.15,40.0],[3.2,44.0],[3.25,36.5],[3.3,42.0],[3.35,46.0],[3.4,39.5],[3.45,43.5],[3.5,41.0],[3.55,45.5],[3.6,38.5],[3.65,43.0],[3.7,51.0],[3.75,40.5],[3.8,44.0],[3.9,42.0],[4.0,39.0],[4.1,43.5],[4.3,41.5],[4.6,39.5],[4.8,42.5],[5.2,40.5],[2.5,43.0],[2.8,41.0],[3.1,43.0],[3.4,41.5],[2.6,45.5],[2.9,38.5],[3.2,41.5],[3.5,47.0],[2.7,40.5],[3.0,44.5],[3.3,39.0],[3.6,41.5],[2.4,40.0],[2.9,43.0],[3.2,46.5],[3.0,41.5],[2.7,44.0],[3.4,45.0],[2.3,42.5],[3.8,47.5],[2.1,40.8],[3.55,42.5],[2.65,38.8],[2.95,47.0],[3.25,43.5],[1.3,48.0],[1.1,44.5],[2.0,45.0],[3.85,39.5],[2.55,48.5],[3.15,37.5],[3.65,45.5],[1.8,43.5],
  [2.2,44.0],[2.3,39.6],[2.35,41.8],[2.4,45.0],[2.45,39.0],[2.5,41.5],[2.55,46.5],[2.6,40.6],[2.65,43.8],[2.7,42.2],[2.75,45.8],[2.8,39.0],[2.85,42.2],[2.9,46.0],[2.95,40.2],[3.0,43.0],[3.05,45.6],[3.1,39.6],[3.15,42.6],[3.2,40.2],[3.25,45.8],[3.3,43.8],[3.35,40.5],[3.4,43.0],[3.45,46.8],[3.5,39.6],[3.55,44.0],[3.6,42.6],[3.65,40.8],[3.7,44.6],[3.75,42.2],[3.8,41.4],[3.9,45.0],[4.0,41.6],[4.1,40.2],[4.2,44.0],[2.6,48.0],[3.0,48.8],[3.3,47.8],[2.8,47.0],[3.6,47.8],[2.4,38.0],[3.2,38.2],[2.7,37.6],[3.5,44.8],[2.95,42.0],[3.15,44.6],[2.5,45.2],[3.4,38.8],[3.85,43.2]];
const d2RedFit = [[0.55,38.0],[3.92,39.5]];
const d2CyanFit = [[0.6,40.3],[5.2,42.7]];

// Panel D3: VO2max vs DNAmVO2max
const d3Red = [[0.85,38.1],[1.0,40.2],[1.05,37.4],[1.1,41.0],[1.2,39.2],[1.25,40.5],[1.3,37.6],[1.35,43.2],[1.4,38.8],[1.45,40.0],[1.5,41.8],[1.55,37.4],[1.6,39.6],[1.62,42.4],[1.65,38.3],[1.7,40.8],[1.72,37.8],[1.75,39.0],[1.8,41.5],[1.82,38.5],[1.85,40.2],[1.88,37.2],[1.9,42.0],[1.92,39.4],[1.95,38.0],[1.98,40.6],[2.0,37.6],[2.02,41.2],[2.05,39.0],[2.08,42.6],[2.1,38.4],[2.12,40.0],[2.15,37.0],[2.2,41.0],[2.25,36.8],[2.3,39.6],[2.35,42.0],[2.4,38.6],[2.5,40.6],[2.6,37.8],[2.7,39.5],[2.8,38.4],[2.9,40.0],[3.0,39.2],[3.1,37.6],[3.25,38.2],[1.9,40.8],[2.0,39.4],[1.7,39.8],[2.1,41.5],[1.6,38.4],[1.8,39.2],[1.5,39.2],[2.2,39.8],[1.4,41.2],[2.3,38.0],[1.95,41.4],[2.05,37.6],[1.3,39.6],[1.75,42.6],[1.85,38.6],[2.15,39.2],[1.2,37.8],[2.4,40.4]];
const d3Cyan = [[2.05,42.2],[2.2,43.2],[2.3,41.0],[2.4,43.8],[2.5,45.5],[2.55,42.0],[2.6,44.2],[2.7,40.6],[2.75,43.0],[2.8,44.8],[2.85,41.8],[2.9,43.5],[2.95,39.8],[3.0,45.8],[3.05,42.6],[3.1,44.2],[3.15,41.2],[3.2,43.6],[3.25,45.2],[3.3,42.2],[3.35,40.8],[3.4,44.5],[3.45,42.8],[3.5,43.8],[3.55,41.6],[3.6,45.0],[3.65,39.2],[3.7,43.2],[3.75,42.0],[3.8,44.0],[3.9,45.2],[4.0,43.0],[4.1,44.6],[4.2,43.8],[4.35,42.0],[4.6,44.2],[4.7,44.4],[2.6,42.8],[3.0,43.2],[3.3,44.0],[2.8,42.2],[3.6,42.6],[3.2,41.8],[2.4,41.8],[3.1,45.4],[3.45,44.6],[2.9,44.8],[3.8,43.0],[2.2,41.5],[3.5,41.0]];
const d3RedFit = [[0.86,39.1],[3.24,40.2]];
const d3CyanFit = [[2.1,41.3],[4.65,44.7]];
const d3CyanBand = [[2.1,40.7,41.9],[3.3,42.65,43.15],[4.65,43.9,45.5]];

// Text
const panelLetters = ['A','B','C','D'];
const xTitles = ['GaitSpeed','GaitSpeed','Composite Leg Strength','Physical Functioning','Gripmax','Gripmax','Gripmax','Gripmax','FEV','FEV','VO2max','FEV','FEV','VO2max'];
const yTitles = ['DNAmGaitspeed','DNAmGripmax','DNAmFEV1','DNAmVO2max'];
const statsRed = [null,null,null,null,
  '<i>R</i> = 0.27 , <i>p</i> = 2.3e-07','<i>R</i> = 0.16 , <i>p</i> = 7.6e-09','<i>R</i> = \u22120.14 , <i>p</i> = 0.03','<i>R</i> = 0.16 , <i>p</i> = 0.015',
  '<i>R</i> = 0.22 , <i>p</i> = 6.5e-06','<i>R</i> = 0.21 , <i>p</i> = 3.4e-15','<i>R</i> = 0.34 , <i>p</i> = 3.1e-06',
  '<i>R</i> = \u22120.041 , <i>p</i> = 0.41','<i>R</i> = 0.13 , <i>p</i> = 1.1e-06','<i>R</i> = 0.19 , <i>p</i> = 0.012'];
const statsCyan = [null,null,'<i>R</i> = 0.27 , <i>p</i> = 0.0052','<i>R</i> = 0.33 , <i>p</i> = 4.6e-12',
  '<i>R</i> = 0.35 , <i>p</i> = 4.5e-09','<i>R</i> = 0.21 , <i>p</i> = 2.2e-16','<i>R</i> = \u22120.13 , <i>p</i> = 0.18',null,
  '<i>R</i> = 0.3 , <i>p</i> = 2.9e-07','<i>R</i> = 0.25 , <i>p</i> < 2.2e-16','<i>R</i> = 0.42 , <i>p</i> = 4e-05',
  '<i>R</i> = 0.097 , <i>p</i> = 0.1','<i>R</i> = 0.12 , <i>p</i> = 4.7e-06','<i>R</i> = 0.47 , <i>p</i> = 3.6e-06'];

// ---------- LAYOUT (page-pixel boxes, converted to domains) ----------
const W=800, H=680, OFF=60;
const RED='#F26762', CYAN='#12B7BB';
const FONT='Liberation Sans, Arial, sans-serif';
const fx = px => px/W;
const fy = py => 1-(py+OFF)/H;

const specs = [
 {row:0, box:[113,223,-39,81], xr:[-0.03,2.62], yr:[0.958,2.22], xt:[0,1,''], yt:[1,0.25,'.2f'], red:a1Red, cyan:a1Cyan, rf:a1RedFit, cf:a1CyanFit, st:[0,0,0]},
 {row:0, box:[275,397,-39,81], xr:[0.05,4.2], yr:[0.961,2.218], xt:[0,1,''], yt:[1,0.25,'.2f'], red:a2Red, cyan:a2Cyan, rf:a2RedFit, cf:a2CyanFit, st:[0,0,0]},
 {row:0, box:[437,562,-39,81], xr:[117,1094], yr:[1.505,2.92], xt:[0,250,''], yt:[1.8,0.3,'.1f'], red:a3Red, cyan:a3Cyan, rf:a3RedFit, cf:a3CyanFit, st:[442,-12,2]},
 {row:0, box:[603,728,-39,81], xr:[-0.65,12.6], yr:[0.97,2.77], xt:[0,2.5,'.1f'], yt:[1,0.5,'.1f'], red:a4Red, cyan:a4Cyan, rf:a4RedFit, cf:a4CyanFit, rb:a4RedBand, cb:a4CyanBand, st:[609,-12,2]},
 {row:1, box:[105,229,127,247], xr:[-3.3,57.9], yr:[8.4,52.3], xt:[0,20,''], yt:[0,10,''], red:b1Red, cyan:b1Cyan, rf:b1RedFit, cf:b1CyanFit, st:[112,136.7,151.2]},
 {row:1, box:[268,395,127,247], xr:[0.4,58.7], yr:[8.2,57.7], xt:[0,10,''], yt:[0,10,''], red:b2Red, cyan:b2Cyan, rf:b2RedFit, cf:b2CyanFit, st:[273,136.7,149.5]},
 {row:1, box:[435,557,127,247], xr:[6.9,63.2], yr:[18.2,67.4], xt:[0,20,''], yt:[0,10,''], red:b3Red, cyan:b3Cyan, rf:b3RedFit, cf:b3CyanFit, st:[440,136.7,149.8]},
 {row:1, box:[602,729,127,247], xr:[7.3,54.6], yr:[14.5,28.7], xt:[0,10,''], yt:[0,5,''], red:b4Red, cyan:null, rf:b4RedFit, cf:null, rb:b4RedBand, st:[607,141.7,0]},
 {row:2, box:[109,228,295,415], xr:[0.32,4.04], yr:[1.2,3.6], xt:[0,1,''], yt:[0,0.5,'.1f'], red:c1Red, cyan:c1Cyan, rf:c1RedFit, cf:c1CyanFit, st:[113,304.3,319.3]},
 {row:2, box:[263,390,295,415], xr:[0.2,5.22], yr:[1.13,4.1], xt:[0,1,''], yt:[0,1,''], red:c2Red, cyan:c2Cyan, rf:c2RedFit, cf:c2CyanFit, st:[270,303.3,315.3]},
 {row:2, box:[430,562,295,415], xr:[0.65,4.93], yr:[1.84,5.14], xt:[0,1,''], yt:[0,1,''], red:c3Red, cyan:c3Cyan, rf:c3RedFit, cf:c3CyanFit, cb:c3CyanBand, st:[436,306,316.7]},
 {row:3, box:[107,229,461,580], xr:[0.35,4.07], yr:[29.4,51.0], xt:[0,1,''], yt:[0,5,''], red:d1Red, cyan:d1Cyan, rf:d1RedFit, cf:d1CyanFit, st:[112,471.7,482.6]},
 {row:3, box:[267,395,461,580], xr:[0.12,5.44], yr:[28.9,61.6], xt:[0,1,''], yt:[0,10,''], red:d2Red, cyan:d2Cyan, rf:d2RedFit, cf:d2CyanFit, st:[273,470,483.3]},
 {row:3, box:[435,562,461,580], xr:[0.7,4.82], yr:[34.5,50.7], xt:[0,1,''], yt:[0,5,''], red:d3Red, cyan:d3Cyan, rf:d3RedFit, cf:d3CyanFit, cb:d3CyanBand, st:[441,473.3,487.7]}
];
const letterPos = [[74,-44],[74,123],[75,288],[74,455]];

const traces=[], annotations=[];
const layout = {width:W, height:H, margin:{l:0,r:0,t:0,b:0}, paper_bgcolor:'#fff', plot_bgcolor:'#fff', showlegend:false, font:{family:FONT}};

function axis(dom, range, t, title, anchor, isX){
  return {domain:dom, range:range, anchor:anchor, tickmode:'linear', tick0:t[0], dtick:t[1], tickformat:t[2],
    showgrid:true, gridcolor:'#e2e2e2', gridwidth:0.8, zeroline:false,
    minor:{tick0:t[0], dtick:t[1]/2, showgrid:true, gridcolor:'#f1f1f1', gridwidth:0.6},
    showline:true, mirror:true, linecolor:'#8a8a8a', linewidth:1,
    ticks:'outside', ticklen:3, tickwidth:1, tickcolor:'#555',
    tickfont:{family:FONT, size:8.5, color:'#4d4d4d'}, automargin:false, fixedrange:true,
    title:{text:title, font:{family:FONT, size:10.5, color:'#111'}, standoff: isX?3:1}};
}
const band = (b, ax, ay) => {
  traces.push({x:b.map(p=>p[0]), y:b.map(p=>p[1]), xaxis:ax, yaxis:ay, mode:'lines', line:{width:0}, hoverinfo:'skip'});
  traces.push({x:b.map(p=>p[0]), y:b.map(p=>p[2]), xaxis:ax, yaxis:ay, mode:'lines', line:{width:0}, fill:'tonexty', fillcolor:'rgba(150,150,150,0.35)', hoverinfo:'skip'});
};

specs.forEach((s,i)=>{
  const n = i===0?'':String(i+1);
  const ax='x'+n, ay='y'+n;
  const [l,r,t,b]=s.box;
  layout['xaxis'+n] = axis([fx(l),fx(r)], s.xr, s.xt, xTitles[i], ay, true);
  layout['yaxis'+n] = axis([fy(b),fy(t)], s.yr, s.yt, yTitles[s.row], ax, false);
  if(s.rb) band(s.rb, ax, ay);
  if(s.cb) band(s.cb, ax, ay);
  const mk = c => ({color:c, size:6.5, opacity:0.55, line:{width:0}});
  traces.push({x:s.red.map(p=>p[0]), y:s.red.map(p=>p[1]), xaxis:ax, yaxis:ay, mode:'markers', marker:mk(RED)});
  if(s.cyan) traces.push({x:s.cyan.map(p=>p[0]), y:s.cyan.map(p=>p[1]), xaxis:ax, yaxis:ay, mode:'markers', marker:mk(CYAN)});
  traces.push({x:s.rf.map(p=>p[0]), y:s.rf.map(p=>p[1]), xaxis:ax, yaxis:ay, mode:'lines', line:{color:RED, width:2}});
  if(s.cf) traces.push({x:s.cf.map(p=>p[0]), y:s.cf.map(p=>p[1]), xaxis:ax, yaxis:ay, mode:'lines', line:{color:CYAN, width:2}});
  if(statsRed[i]) annotations.push({xref:'paper', yref:'paper', x:fx(s.st[0]), y:fy(s.st[1]), xanchor:'left', yanchor:'middle', showarrow:false, text:statsRed[i], font:{family:FONT, size:9, color:RED}});
  if(statsCyan[i]) annotations.push({xref:'paper', yref:'paper', x:fx(s.st[0]), y:fy(s.st[2]), xanchor:'left', yanchor:'middle', showarrow:false, text:statsCyan[i], font:{family:FONT, size:9, color:CYAN}});
});
panelLetters.forEach((L,k)=>{
  annotations.push({xref:'paper', yref:'paper', x:fx(letterPos[k][0]), y:fy(letterPos[k][1]), xanchor:'center', yanchor:'middle', showarrow:false, text:'<b>'+L+'</b>', font:{family:FONT, size:13, color:'#000'}});
});
layout.annotations = annotations;
Plotly.newPlot('chart', traces, layout, {staticPlot:true, displayModeBar:false});
</script>
</body></html>
